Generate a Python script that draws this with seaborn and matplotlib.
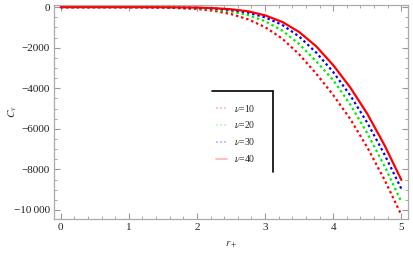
import pandas as pd
import matplotlib
matplotlib.use("Agg")
import matplotlib.pyplot as plt
import seaborn as sns
from matplotlib.lines import Line2D
from matplotlib.ticker import MultipleLocator, FuncFormatter

# values
r_plus = [0, 0.5, 1, 1.5, 2, 2.25, 2.5, 2.75, 3, 3.25, 3.5, 3.75, 4, 4.25, 4.5, 4.75, 5]
cv_nu10 = [0, 0, 0, -15, -90, -180, -340, -600, -985, -1545, -2325, -3275, -4335, -5515, -6915, -8495, -10250]
cv_nu20 = [0, 0, 0, -8, -50, -110, -210, -390, -690, -1150, -1820, -2670, -3600, -4800, -6220, -7820, -9600]
cv_nu30 = [0, 0, 0, -4, -30, -70, -140, -270, -500, -870, -1450, -2240, -3200, -4350, -5700, -7250, -8960]
cv_nu40 = [0, 0, 0, -3, -20, -50, -105, -205, -405, -725, -1225, -1930, -2860, -3960, -5260, -6790, -8520]
labels = [r"$\nu$=10", r"$\nu$=20", r"$\nu$=30", r"$\nu$=40"]

sns.set_theme(style="ticks")
plt.rcParams['font.family'] = ['Liberation Serif', 'DejaVu Serif']
plt.rcParams['mathtext.fontset'] = 'stix'


def y_fmt(v, pos):
    # Mathematica style: real minus sign, thin space grouping only from 5 digits on
    n = abs(int(round(v)))
    s = f"{n:,}".replace(",", "\u2009") if n >= 10000 else str(n)
    return ("\u2212" + s) if v < 0 else s


df = pd.DataFrame({'r': r_plus, 'nu10': cv_nu10, 'nu20': cv_nu20,
                   'nu30': cv_nu30, 'nu40': cv_nu40})

fig = plt.figure(figsize=(4.14, 2.59), dpi=100)
ax = fig.add_axes([0.130, 0.154, 0.856, 0.827])

dot = (0, (1.1, 1.3))
series = [('nu10', 'red', dot), ('nu20', '#00ee00', dot),
          ('nu30', 'blue', dot), ('nu40', 'red', '-')]
for (col, color, ls), lab in zip(series, labels):
    sns.lineplot(data=df, x='r', y=col, ax=ax, color=color, linewidth=1.6,
                 linestyle=ls, label=lab, legend=False)

ax.set_xlim(-0.1, 5.1)
ax.set_ylim(-10450, 110)
ax.xaxis.set_major_locator(MultipleLocator(1))
ax.xaxis.set_minor_locator(MultipleLocator(0.2))
ax.yaxis.set_major_locator(MultipleLocator(2000))
ax.yaxis.set_minor_locator(MultipleLocator(500))
ax.yaxis.set_major_formatter(FuncFormatter(y_fmt))
ax.tick_params(which='both', direction='in', top=True, right=True,
               color='#999999', labelsize=8, labelcolor='#222222', pad=3)
ax.tick_params(which='major', length=4, width=0.8)
ax.tick_params(which='minor', length=2, width=0.6)
for s in ax.spines.values():
    s.set_color('#aaaaaa')
    s.set_linewidth(0.9)

ax.set_xlabel(r"$r_+$", fontsize=8, color='#333333', labelpad=5)
ax.set_ylabel(r"$C_v$", fontsize=8, color='#333333', labelpad=-4)

handles = [Line2D([], [], color=c, linestyle=ls, linewidth=1.2, alpha=0.3)
           for _, c, ls in series]
leg = ax.legend(handles, labels, loc='upper left', bbox_to_anchor=(0.434, 0.585),
                frameon=False, fontsize=7, handlelength=1.1, handletextpad=0.7,
                labelspacing=0.6)

# open legend frame (top and right edges)
ax.plot([0.446, 0.619], [0.598, 0.598], color='black', linewidth=1.2,
        transform=ax.transAxes, clip_on=False)
ax.plot([0.619, 0.619], [0.598, 0.220], color='black', linewidth=1.2,
        transform=ax.transAxes, clip_on=False)

fig.savefig('out.png', dpi=100)
